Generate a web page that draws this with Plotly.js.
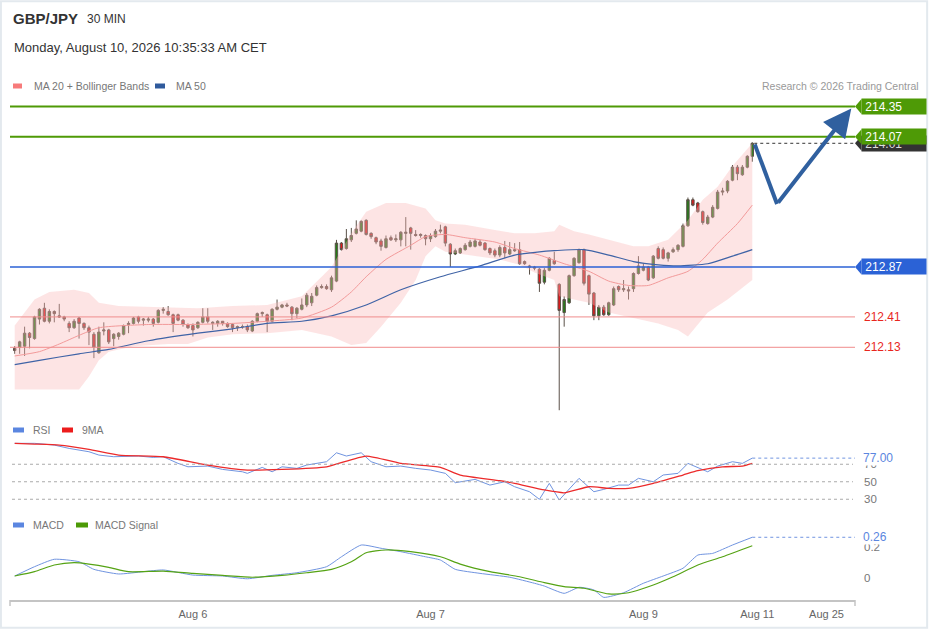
<!DOCTYPE html>
<html><head><meta charset="utf-8">
<script src="https://cdn.plot.ly/plotly-3.0.1.min.js"></script>
<style>html,body{margin:0;padding:0;background:#fff}#chart{width:929px;height:629px}</style>
</head><body><div id="chart"></div>
<script>
// ---------- DATA ----------
const openP = [212.12,212.13,212.14,212.26,212.21,212.39,212.49,212.37,212.46,212.42,
212.41,212.35,212.31,212.40,212.35,212.31,212.25,212.08,212.28,212.29,
212.21,212.23,212.25,212.34,212.35,212.41,212.38,212.38,212.39,212.36,
212.47,212.46,212.43,212.43,212.38,212.34,212.33,212.31,212.36,212.41,
212.35,212.35,212.37,212.35,212.34,212.31,212.32,212.32,212.28,212.37,
212.44,212.43,212.37,212.48,212.50,212.52,212.50,212.44,212.48,212.52,
212.54,212.61,212.68,212.69,212.66,212.74,213.09,213.04,213.12,213.18,
213.20,213.30,213.18,213.14,213.11,213.05,213.14,213.12,213.12,213.18,
213.23,213.17,213.16,213.16,213.13,213.15,213.20,213.24,213.08,212.99,
213.00,213.03,213.06,213.06,213.10,213.09,213.04,213.02,212.98,213.05,
212.99,213.03,213.03,212.92,212.88,212.87,212.85,212.73,212.84,212.93,
212.71,212.45,212.54,212.79,212.91,213.03,212.79,212.63,212.42,212.50,
212.43,212.52,212.69,212.66,212.66,212.67,212.81,212.84,212.87,212.77,
213.04,213.03,212.95,213.01,213.03,213.06,213.25,213.49,213.46,213.38,
213.27,213.33,213.41,213.56,213.57,213.67,213.79,213.72,213.79,213.89];
const highP = [212.14,212.19,212.32,212.27,212.42,212.49,212.54,212.48,212.47,212.53,
212.42,212.37,212.39,212.41,212.36,212.33,212.27,212.32,212.36,212.30,
212.26,212.27,212.34,212.37,212.41,212.42,212.40,212.41,212.40,212.48,
212.50,212.51,212.44,212.44,212.39,212.35,212.35,212.37,212.49,212.49,
212.37,212.38,212.37,212.36,212.35,212.33,212.34,212.34,212.38,212.45,
212.46,212.44,212.49,212.57,212.53,212.54,212.51,212.50,212.58,212.63,
212.63,212.70,212.71,212.71,212.79,213.12,213.10,213.22,213.23,213.30,
213.30,213.31,213.19,213.15,213.13,213.16,213.16,213.17,213.20,213.33,
213.24,213.21,213.18,213.17,213.18,213.22,213.26,213.25,213.09,213.04,
213.05,213.09,213.12,213.13,213.12,213.10,213.05,213.04,213.07,213.11,
213.10,213.09,213.10,212.93,212.89,212.88,212.86,212.86,212.96,213.01,
212.72,212.60,212.80,212.96,213.04,213.04,212.80,212.64,212.52,212.52,
212.55,212.69,212.70,212.75,212.69,212.82,212.97,212.90,212.88,212.98,
213.06,213.05,213.01,213.05,213.08,213.27,213.51,213.51,213.47,213.39,
213.35,213.44,213.58,213.60,213.67,213.81,213.81,213.81,213.90,214.02];
const lowP = [212.07,212.07,212.05,212.12,212.20,212.34,212.36,212.35,212.36,212.40,
212.37,212.27,212.30,212.21,212.29,212.15,212.03,212.07,212.24,212.16,
212.14,212.20,212.24,212.26,212.34,212.35,212.33,212.36,212.32,212.35,
212.44,212.42,212.27,212.37,212.32,212.30,212.23,212.30,212.35,212.35,
212.29,212.32,212.33,212.31,212.27,212.28,212.30,212.27,212.27,212.36,
212.41,212.27,212.36,212.47,212.49,212.50,212.38,212.40,212.47,212.50,
212.51,212.60,212.67,212.66,212.64,212.73,213.02,213.03,213.10,213.17,
213.19,213.16,213.13,213.08,213.02,213.04,213.11,213.10,213.06,213.06,
213.03,213.15,213.14,213.07,213.10,213.14,213.18,213.06,212.87,212.98,
212.99,213.02,213.05,213.05,213.06,213.02,212.98,212.96,212.96,212.95,
212.98,213.01,212.89,212.89,212.80,212.84,212.64,212.71,212.83,212.89,
211.55,212.32,212.53,212.78,212.90,212.70,212.52,212.38,212.38,212.42,
212.42,212.51,212.64,212.64,212.57,212.64,212.80,212.83,212.74,212.76,
212.94,212.94,212.92,213.00,213.01,213.05,213.24,213.43,213.37,213.26,
213.26,213.32,213.40,213.53,213.55,213.66,213.67,213.71,213.78,213.84];
const closeP = [212.10,212.18,212.26,212.22,212.41,212.48,212.37,212.46,212.44,212.41,
212.39,212.31,212.37,212.35,212.31,212.27,212.13,212.27,212.29,212.18,
212.25,212.26,212.33,212.35,212.40,212.37,212.39,212.39,212.35,212.47,
212.48,212.43,212.35,212.38,212.34,212.31,212.29,212.36,212.41,212.37,
212.36,212.37,212.35,212.32,212.31,212.32,212.32,212.29,212.37,212.44,
212.45,212.37,212.48,212.50,212.52,212.51,212.44,212.49,212.52,212.61,
212.60,212.68,212.69,212.67,212.77,213.09,213.03,213.13,213.16,213.22,
213.29,213.17,213.15,213.10,213.06,213.13,213.12,213.13,213.19,213.19,
213.18,213.16,213.17,213.13,213.16,213.20,213.21,213.09,212.99,213.02,
213.04,213.07,213.10,213.11,213.07,213.03,213.00,212.98,213.05,213.00,
213.03,213.02,212.90,212.90,212.87,212.86,212.72,212.84,212.95,212.90,
212.47,212.57,212.79,212.95,213.03,212.72,212.62,212.42,212.50,212.43,
212.54,212.67,212.66,212.67,212.65,212.81,212.88,212.87,212.75,212.97,
212.95,212.95,213.00,213.03,213.07,213.25,213.49,213.44,213.38,213.28,
213.33,213.42,213.56,213.57,213.66,213.79,213.73,213.79,213.89,214.01];

const ma20X = [0,5,9,13,17,27,35,44,51,58,64,68,71,75,80,83,87,91,97,101,106,111,116,120,124,128,132,136,139,142,146,149];
const ma20Val = [212.05,212.09,212.16,212.24,212.31,212.34,212.34,212.35,212.37,212.40,212.50,212.64,212.78,212.94,213.07,213.15,213.17,213.14,213.10,213.04,212.98,212.90,212.83,212.74,212.70,212.70,212.77,212.83,212.94,213.09,213.27,213.44];
const ma50X = [0,5,13,19,27,37,44,51,58,64,71,78,86,94,101,106,109,115,120,125,130,134,140,145,149];
const ma50Val = [211.97,212.01,212.07,212.11,212.19,212.26,212.30,212.35,212.37,212.42,212.52,212.66,212.78,212.88,212.98,213.01,213.02,213.03,212.98,212.92,212.89,212.88,212.90,212.97,213.03];
const bbUpX = [0,4,7,12,15,17,21,27,37,44,51,58,64,68,71,75,79,83,85,87,91,97,101,105,109,110,113,116,120,125,128,132,136,139,142,145,149];
const bbUpVal = [212.33,212.57,212.64,212.66,212.63,212.54,212.51,212.50,212.49,212.51,212.52,212.60,212.87,213.18,213.38,213.46,213.46,213.41,213.30,213.27,213.26,213.21,213.18,213.18,213.20,213.26,213.20,213.17,213.12,213.06,213.06,213.12,213.30,213.49,213.61,213.80,214.01];
const bbLoX = [0,7,13,15,17,19,24,31,35,39,44,51,58,64,68,71,74,78,81,83,85,87,98,102,105,109,110,113,116,120,125,130,134,136,140,144,149];
const bbLoVal = [211.74,211.74,211.74,211.86,212.01,212.09,212.14,212.16,212.16,212.22,212.25,212.26,212.29,212.23,212.15,212.17,212.32,212.54,212.75,212.97,213.06,213.01,212.94,212.89,212.82,212.75,212.60,212.57,212.54,212.45,212.40,212.35,212.29,212.23,212.45,212.57,212.75];

const rsiX = [0,4,8,11,15,17,20,25,28,30,33,35,39,42,46,47,50,52,54,57,59,62,63,65,67,70,72,75,78,81,84,87,89,93,96,99,101,104,106,108,110,114,117,119,122,124,126,129,131,134,136,140,142,145,147,149];
const rsiVal = [93.9,93.9,91.9,88.1,84.3,80.5,78.6,79.4,77.8,78.6,71.0,67.1,67.9,64.1,61.4,59.6,66.4,61.4,67.1,65.3,69.1,71.7,72.9,83.1,79.4,83.1,72.9,67.1,67.9,65.3,63.4,59.6,48.9,52.7,46.2,50.0,44.3,38.6,29.9,48.2,29.1,53.9,38.6,41.3,46.2,46.2,53.9,50.0,57.7,59.6,71.0,61.4,67.9,72.9,71.0,77.0];
const rsiMaX = [0,4,9,15,21,30,39,47,54,63,71,78,86,90,98,101,107,111,116,120,124,129,135,138,143,147,149];
const rsiMaVal = [93.9,93.1,91.9,87.0,80.5,78.6,69.1,63.4,64.1,67.1,79.4,71.0,66.4,57.7,51.2,48.2,40.6,37.4,44.3,42.4,42.4,48.2,57.7,62.6,67.1,67.9,71.0];
const rsiLevels = [30, 50, 70];

const macdX = [0,4,8,13,16,21,26,30,36,42,47,52,57,63,66,70,74,78,83,86,89,94,100,105,107,111,114,117,119,123,127,131,135,138,141,145,149];
const macdVal = [0.013,0.073,0.121,0.105,0.056,0.026,0.041,0.052,0.019,0.013,-0.005,0.017,0.034,0.073,0.137,0.213,0.192,0.170,0.137,0.116,0.056,0.030,0.005,-0.034,-0.052,-0.099,-0.060,-0.077,-0.125,-0.095,-0.034,0.013,0.063,0.148,0.159,0.213,0.263];
const sigX = [0,4,8,12,15,19,23,30,36,42,48,54,59,64,68,71,75,80,86,90,96,102,107,111,115,120,124,129,133,138,143,149];
const sigVal = [0.013,0.041,0.084,0.099,0.090,0.069,0.041,0.045,0.030,0.017,0.005,0.017,0.034,0.056,0.105,0.163,0.181,0.170,0.137,0.090,0.041,0.008,-0.030,-0.056,-0.066,-0.103,-0.095,-0.045,0.008,0.084,0.137,0.208];

const levels = [214.35, 214.07, 212.87, 212.41, 212.13];
const forecastX = [149.5, 154, 169];
const forecastY = [214.00, 213.45, 214.33];

const tickIdx = [36, 84, 127, 150, 164];
const tickLabels = ['Aug 6', 'Aug 7', 'Aug 9', 'Aug 11', 'Aug 25'];

// ---------- LAYOUT HELPERS ----------
const W = 929, H = 629;
const px = x => x / W;
const py = y => 1 - y / H;
const FONT = 'Liberation Sans, Arial, Helvetica, sans-serif';
const xRange = [-0.95, 169.75];
const nC = closeP.length;
const candleX = closeP.map((_, i) => i);
const lastIdx = nC - 1;

const GREEN = '#4e9a06', BLUE = '#2b62d6', RED = '#e8261e', REDLINE = '#f08c8c';
const ARROW = '#30609f';

const bandX = bbUpX.concat(bbLoX.slice().reverse());
const bandY = bbUpVal.concat(bbLoVal.slice().reverse());

const traces = [
  {type:'scatter', mode:'lines', x:bandX, y:bandY, fill:'toself', fillcolor:'rgba(250,185,185,0.38)',
   line:{width:0}, hoverinfo:'skip', xaxis:'x', yaxis:'y'},
  {type:'scatter', mode:'lines', x:ma20X, y:ma20Val, line:{color:'#f39a9a', width:1, shape:'spline', smoothing:0.6}, xaxis:'x', yaxis:'y'},
  {type:'scatter', mode:'lines', x:ma50X, y:ma50Val, line:{color:'#3f63a6', width:1.2, shape:'spline', smoothing:0.6}, xaxis:'x', yaxis:'y'},
  {type:'candlestick', x:candleX, open:openP, high:highP, low:lowP, close:closeP, xaxis:'x', yaxis:'y',
   increasing:{fillcolor:'#237d16', line:{color:'#5a5048', width:1}},
   decreasing:{fillcolor:'#e3181b', line:{color:'#5a5048', width:1}}, whiskerwidth:0},
  {type:'scatter', mode:'lines', x:rsiX, y:rsiVal, line:{color:'#7094e0', width:1}, xaxis:'x', yaxis:'y2'},
  {type:'scatter', mode:'lines', x:rsiMaX, y:rsiMaVal, line:{color:'#ec2a2a', width:1.3, shape:'spline', smoothing:0.5}, xaxis:'x', yaxis:'y2'},
  {type:'scatter', mode:'lines', x:macdX, y:macdVal, line:{color:'#7094e0', width:1, shape:'spline', smoothing:0.5}, xaxis:'x', yaxis:'y3'},
  {type:'scatter', mode:'lines', x:sigX, y:sigVal, line:{color:'#55a314', width:1.2, shape:'spline', smoothing:0.6}, xaxis:'x', yaxis:'y3'},
  {type:'scatter', mode:'lines', x:forecastX.slice(0,2), y:forecastY.slice(0,2), line:{color:ARROW, width:4}, xaxis:'x', yaxis:'y'}
];

const shapes = [];
const ann = [];
// frame
shapes.push({type:'rect', xref:'paper', yref:'paper', x0:0.001, x1:0.998, y0:0.002, y1:0.998, line:{color:'#e3e9ee', width:2}});
// level lines
const levelStyle = [
  {color:GREEN, width:2}, {color:GREEN, width:2}, {color:BLUE, width:1.3}, {color:REDLINE, width:1}, {color:REDLINE, width:1}
];
levels.forEach((lv, i) => shapes.push({type:'line', xref:'paper', yref:'y', x0:px(10), x1:px(855), y0:lv, y1:lv, line:levelStyle[i]}));
// last price dotted
shapes.push({type:'line', xref:'x', yref:'y', x0:lastIdx + 0.4, x1:xRange[1], y0:closeP[lastIdx], y1:closeP[lastIdx], line:{color:'#333', width:1, dash:'dot'}});
// RSI reference lines
rsiLevels.forEach(v => shapes.push({type:'line', xref:'paper', yref:'y2', x0:px(12), x1:px(853), y0:v, y1:v, line:{color:'#aaa', width:1, dash:'dot'}}));
shapes.push({type:'line', xref:'x', yref:'y2', x0:lastIdx, x1:xRange[1], y0:rsiVal[rsiVal.length-1], y1:rsiVal[rsiVal.length-1], line:{color:'#7094e0', width:1, dash:'dot'}});
shapes.push({type:'line', xref:'x', yref:'y3', x0:lastIdx, x1:xRange[1], y0:macdVal[macdVal.length-1], y1:macdVal[macdVal.length-1], line:{color:'#7094e0', width:1, dash:'dot'}});
// axis end ticks
[10, 855].forEach(x => shapes.push({type:'line', xref:'paper', yref:'paper', x0:px(x), x1:px(x), y0:py(600), y1:py(606), line:{color:'#c4c4c4', width:1.5}}));

// price tags: small triangle tip (shape) + boxed text (annotation)
function tag(level, color, text, textColor) {
  shapes.push({type:'path', xref:'paper', yref:'y', ysizemode:'pixel', yanchor:level,
    path:`M ${px(855)},0 L ${px(861.5)},7.5 L ${px(861.5)},-7.5 Z`, fillcolor:color, line:{width:0}});
  ann.push({xref:'paper', yref:'y', x:px(861), y:level, xanchor:'left', yanchor:'middle',
    text:'\u00a0' + text, showarrow:false, bgcolor:color, borderpad:0, width:64, height:15, align:'left', valign:'middle',
    font:{color:textColor, size:12, family:FONT}});
}
tag(closeP[lastIdx], '#333333', closeP[lastIdx].toFixed(2), '#dddddd');
tag(levels[0], GREEN, levels[0].toFixed(2), '#ffffff');
tag(levels[1], GREEN, levels[1].toFixed(2), '#ffffff');
tag(levels[2], BLUE, levels[2].toFixed(2), '#ffffff');

// legend swatches
const sw = (x0, x1, yc, color) => shapes.push({type:'rect', xref:'paper', yref:'paper', x0:px(x0), x1:px(x1), y0:py(yc+2.5), y1:py(yc-2.5), fillcolor:color, line:{width:0}});
sw(13, 22, 86, '#f77b7b'); sw(155, 165, 86, '#2f5a9c');
sw(13, 24, 430, '#5b86e0'); sw(62, 73, 430, '#ec1c1c');
sw(13, 24, 525, '#5b86e0'); sw(76, 88, 525, '#4c9a06');

const txt = (x, y, text, size, color, extra) => ann.push(Object.assign({xref:'paper', yref:'paper', x:px(x), y:py(y), text:text, showarrow:false,
  xanchor:'left', yanchor:'middle', font:{family:FONT, size:size, color:color}}, extra || {}));
txt(11, 19, '<b>GBP/JPY</b>', 15, '#333');
txt(85, 18.5, '30 MIN', 12, '#333');
txt(12, 48, 'Monday, August 10, 2026 10:35:33 AM CET', 13, '#333');
txt(32, 86, 'MA 20 + Bollinger Bands', 10.5, '#777');
txt(174, 86, 'MA 50', 10.5, '#777');
txt(921, 86, 'Research © 2026 Trading Central', 10.5, '#999', {xanchor:'right'});
txt(31, 430, 'RSI', 10.5, '#777');
txt(80, 430, '9MA', 10.5, '#777');
txt(31, 525, 'MACD', 10.5, '#777');
txt(93, 525, 'MACD Signal', 10.5, '#777');
// red level labels
[3, 4].forEach(i => ann.push({xref:'paper', yref:'y', x:px(862), y:levels[i], text:levels[i].toFixed(2), showarrow:false,
  xanchor:'left', yanchor:'middle', font:{family:FONT, size:12, color:RED}}));
// RSI right labels
[70, 50, 30].forEach(v => ann.push({xref:'paper', yref:'y2', x:px(862), y:v, text:String(v), showarrow:false, xanchor:'left', yanchor:'middle', font:{family:FONT, size:11.5, color:'#777'}}));
ann.push({xref:'paper', yref:'y2', x:px(862), y:rsiVal[rsiVal.length-1], text:rsiVal[rsiVal.length-1].toFixed(2), showarrow:false, xanchor:'left', yanchor:'middle', bgcolor:'#ffffff', borderpad:0, font:{family:FONT, size:12, color:'#5b86e0'}});
// MACD right labels
ann.push({xref:'paper', yref:'y3', x:px(862), y:0.2, text:'0.2', showarrow:false, xanchor:'left', yanchor:'middle', font:{family:FONT, size:11.5, color:'#777'}});
ann.push({xref:'paper', yref:'y3', x:px(862), y:0, text:'0', showarrow:false, xanchor:'left', yanchor:'middle', font:{family:FONT, size:11.5, color:'#777'}});
ann.push({xref:'paper', yref:'y3', x:px(862), y:macdVal[macdVal.length-1], text:macdVal[macdVal.length-1].toFixed(2), showarrow:false, xanchor:'left', yanchor:'middle', bgcolor:'#ffffff', borderpad:0, font:{family:FONT, size:12, color:'#5b86e0'}});
// forecast arrow (up leg)
ann.push({xref:'x', yref:'y', x:forecastX[2], y:forecastY[2], axref:'x', ayref:'y', ax:forecastX[1], ay:forecastY[1],
  showarrow:true, arrowhead:2, arrowsize:1.4, arrowwidth:4, arrowcolor:ARROW, text:'', standoff:0});

const layout = {
  width:W, height:H, margin:{l:0, r:0, t:0, b:0}, paper_bgcolor:'#fff', plot_bgcolor:'rgba(0,0,0,0)',
  showlegend:false, hovermode:false, font:{family:FONT},
  xaxis:{domain:[px(10), px(855)], range:xRange, anchor:'y3', showgrid:false, zeroline:false,
    showline:true, linecolor:'#c4c4c4', linewidth:1.5, ticks:'outside', ticklen:3, tickcolor:'rgba(0,0,0,0)',
    tickvals:tickIdx, ticktext:tickLabels,
    tickfont:{size:11, color:'#666', family:FONT}, rangeslider:{visible:false}, fixedrange:true},
  yaxis:{domain:[py(415), py(95)], range:[211.506, 214.455], visible:false, fixedrange:true},
  yaxis2:{domain:[py(508), py(438)], range:[20, 100], visible:false, fixedrange:true},
  yaxis3:{domain:[py(600), py(530)], range:[-0.142, 0.31], visible:false, fixedrange:true},
  shapes:shapes, annotations:ann
};
Plotly.newPlot('chart', traces, layout, {displayModeBar:false, staticPlot:true});
</script></body></html>
